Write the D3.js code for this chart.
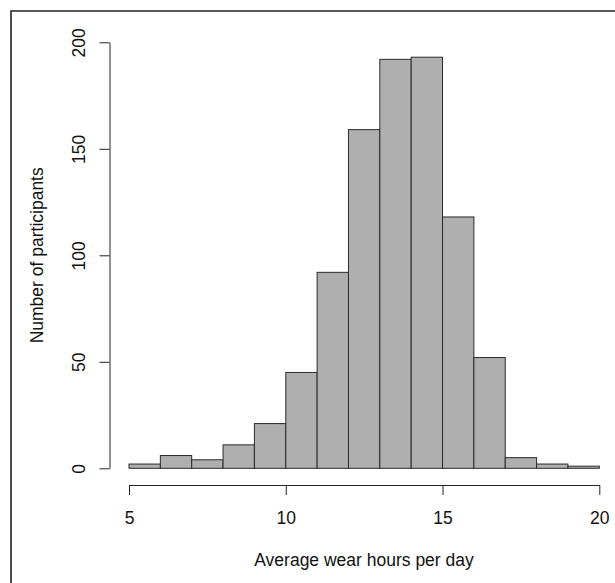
<!DOCTYPE html>
<html lang="en">
<head>
  <meta charset="utf-8">
  <title>Wear hours histogram</title>
  <script src="https://cdn.jsdelivr.net/npm/d3@7"></script>
  <style>
    body { margin: 0; background: #fff; }
    svg { display: block; font-family: "Liberation Sans", Arial, sans-serif; }
    .axis path, .axis line { stroke: #222; stroke-width: 1; fill: none; }
    .axis text { font-size: 17.5px; fill: #111; }
  </style>
</head>
<body>
<script>
  // bin edges (hours) and counts per bin
  var binStart = [5, 6, 7, 8, 9, 10, 11, 12, 13, 14, 15, 16, 17, 18, 19];
  var counts = [2, 6, 4, 11, 21, 45, 92, 159, 192, 193, 118, 52, 5, 2, 1];
  var xTicks = [5, 10, 15, 20];
  var yTicks = [0, 50, 100, 150, 200];

  var W = 615, H = 583;

  var x = d3.scaleLinear().domain([5, 20]).range([129, 599.3]);
  var y = d3.scaleLinear().domain([0, 200]).range([468.3, 42.3]);

  var svg = d3.select("body").append("svg")
    .attr("width", W)
    .attr("height", H);

  // outer frame (left and top edges only visible)
  svg.append("path")
    .attr("d", "M11,583 V11 H615")
    .attr("fill", "none")
    .attr("stroke", "#222")
    .attr("stroke-width", 1.6);

  // bars
  svg.append("g").selectAll("rect")
    .data(counts)
    .enter().append("rect")
    .attr("x", function(d, i) { return x(binStart[i]); })
    .attr("width", function(d, i) { return x(binStart[i] + 1) - x(binStart[i]); })
    .attr("y", function(d) { return y(d); })
    .attr("height", function(d) { return y(0) - y(d); })
    .attr("fill", "#afafaf")
    .attr("stroke", "#2a2a2a")
    .attr("stroke-width", 1);

  // x axis
  var xAxis = d3.axisBottom(x)
    .tickValues(xTicks)
    .tickFormat(d3.format("d"))
    .tickSize(10)
    .tickSizeOuter(0)
    .tickPadding(17);

  svg.append("g")
    .attr("class", "axis")
    .attr("transform", "translate(0,485)")
    .call(xAxis);

  // y axis, labels rotated like R
  var yAxis = d3.axisLeft(y)
    .tickValues(yTicks)
    .tickSize(10)
    .tickSizeOuter(0);

  var gy = svg.append("g")
    .attr("class", "axis")
    .attr("transform", "translate(109.5,0)")
    .call(yAxis);

  gy.selectAll(".tick text")
    .attr("x", 0)
    .attr("dy", 0)
    .attr("transform", "translate(-25,0) rotate(-90)")
    .style("text-anchor", "middle");

  // axis titles
  svg.append("text")
    .attr("x", 364)
    .attr("y", 566)
    .attr("text-anchor", "middle")
    .style("font-size", "17.5px")
    .style("fill", "#111")
    .text("Average wear hours per day");

  svg.append("text")
    .attr("transform", "translate(43,255.3) rotate(-90)")
    .attr("text-anchor", "middle")
    .style("font-size", "17.5px")
    .style("fill", "#111")
    .text("Number of participants");
</script>
</body>
</html>
